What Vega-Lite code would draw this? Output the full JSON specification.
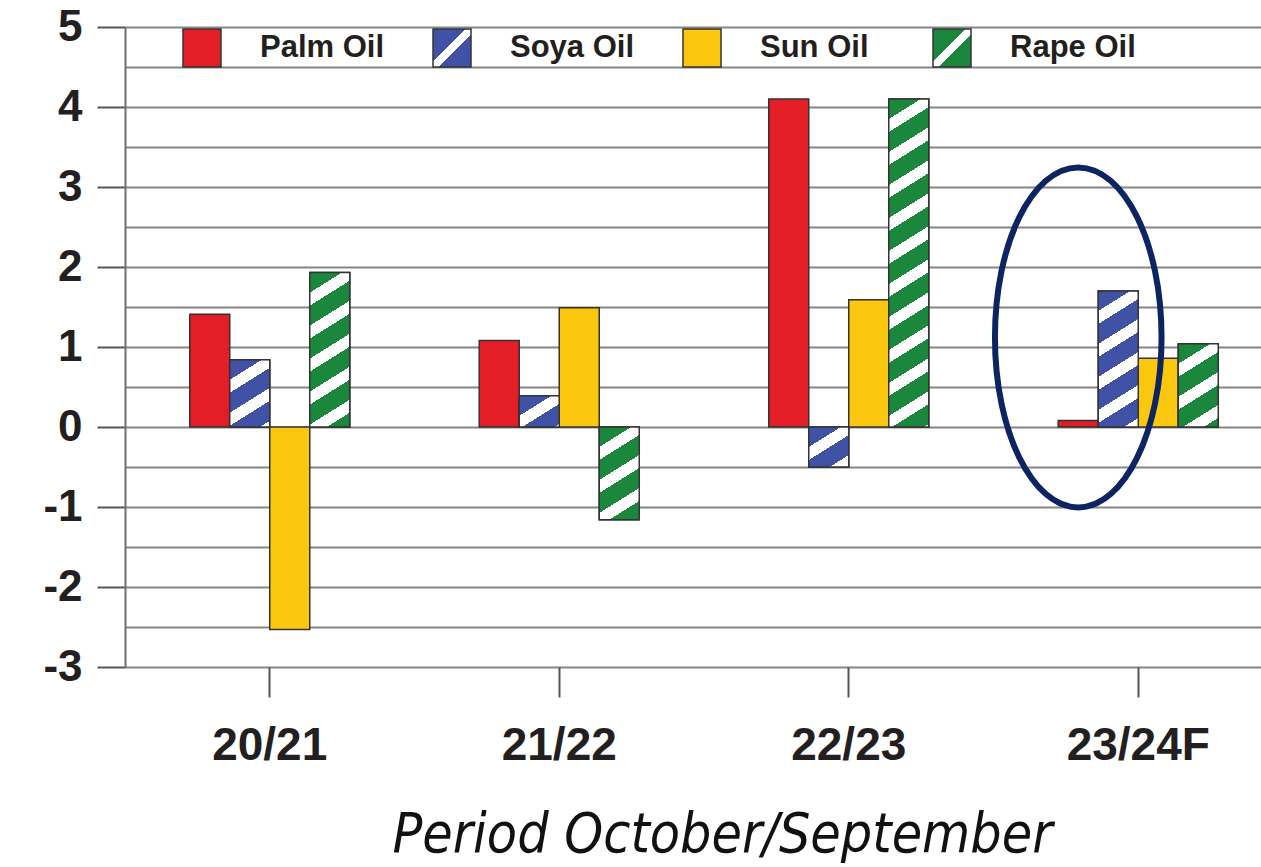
{
  "$schema": "https://vega.github.io/schema/vega-lite/v6.json",
  "width": 1123,
  "height": 640,
  "autosize": {"type": "none"},
  "padding": {"left": 125, "top": 27, "right": 13, "bottom": 200},
  "background": "white",
  "config": {"view": {"stroke": null}},
  "params": [
    {"name": "soyaStops", "value": [{"offset":0,"color":"#3f52a6"},{"offset":0.05,"color":"#3f52a6"},{"offset":0.05,"color":"#ffffff"},{"offset":0.0825,"color":"#ffffff"},{"offset":0.0825,"color":"#3f52a6"},{"offset":0.1325,"color":"#3f52a6"},{"offset":0.1325,"color":"#ffffff"},{"offset":0.165,"color":"#ffffff"},{"offset":0.165,"color":"#3f52a6"},{"offset":0.215,"color":"#3f52a6"},{"offset":0.215,"color":"#ffffff"},{"offset":0.2475,"color":"#ffffff"},{"offset":0.2475,"color":"#3f52a6"},{"offset":0.2975,"color":"#3f52a6"},{"offset":0.2975,"color":"#ffffff"},{"offset":0.33,"color":"#ffffff"},{"offset":0.33,"color":"#3f52a6"},{"offset":0.38,"color":"#3f52a6"},{"offset":0.38,"color":"#ffffff"},{"offset":0.4125,"color":"#ffffff"},{"offset":0.4125,"color":"#3f52a6"},{"offset":0.4625,"color":"#3f52a6"},{"offset":0.4625,"color":"#ffffff"},{"offset":0.495,"color":"#ffffff"},{"offset":0.495,"color":"#3f52a6"},{"offset":0.545,"color":"#3f52a6"},{"offset":0.545,"color":"#ffffff"},{"offset":0.5775,"color":"#ffffff"},{"offset":0.5775,"color":"#3f52a6"},{"offset":0.6275,"color":"#3f52a6"},{"offset":0.6275,"color":"#ffffff"},{"offset":0.66,"color":"#ffffff"},{"offset":0.66,"color":"#3f52a6"},{"offset":0.71,"color":"#3f52a6"},{"offset":0.71,"color":"#ffffff"},{"offset":0.7425,"color":"#ffffff"},{"offset":0.7425,"color":"#3f52a6"},{"offset":0.7925,"color":"#3f52a6"},{"offset":0.7925,"color":"#ffffff"},{"offset":0.825,"color":"#ffffff"},{"offset":0.825,"color":"#3f52a6"},{"offset":0.875,"color":"#3f52a6"},{"offset":0.875,"color":"#ffffff"},{"offset":0.9075,"color":"#ffffff"},{"offset":0.9075,"color":"#3f52a6"},{"offset":0.9575,"color":"#3f52a6"},{"offset":0.9575,"color":"#ffffff"},{"offset":0.99,"color":"#ffffff"},{"offset":0.99,"color":"#3f52a6"},{"offset":1,"color":"#3f52a6"}]},
    {"name": "rapeStops", "value": [{"offset":0,"color":"#1a873c"},{"offset":0.05,"color":"#1a873c"},{"offset":0.05,"color":"#ffffff"},{"offset":0.0825,"color":"#ffffff"},{"offset":0.0825,"color":"#1a873c"},{"offset":0.1325,"color":"#1a873c"},{"offset":0.1325,"color":"#ffffff"},{"offset":0.165,"color":"#ffffff"},{"offset":0.165,"color":"#1a873c"},{"offset":0.215,"color":"#1a873c"},{"offset":0.215,"color":"#ffffff"},{"offset":0.2475,"color":"#ffffff"},{"offset":0.2475,"color":"#1a873c"},{"offset":0.2975,"color":"#1a873c"},{"offset":0.2975,"color":"#ffffff"},{"offset":0.33,"color":"#ffffff"},{"offset":0.33,"color":"#1a873c"},{"offset":0.38,"color":"#1a873c"},{"offset":0.38,"color":"#ffffff"},{"offset":0.4125,"color":"#ffffff"},{"offset":0.4125,"color":"#1a873c"},{"offset":0.4625,"color":"#1a873c"},{"offset":0.4625,"color":"#ffffff"},{"offset":0.495,"color":"#ffffff"},{"offset":0.495,"color":"#1a873c"},{"offset":0.545,"color":"#1a873c"},{"offset":0.545,"color":"#ffffff"},{"offset":0.5775,"color":"#ffffff"},{"offset":0.5775,"color":"#1a873c"},{"offset":0.6275,"color":"#1a873c"},{"offset":0.6275,"color":"#ffffff"},{"offset":0.66,"color":"#ffffff"},{"offset":0.66,"color":"#1a873c"},{"offset":0.71,"color":"#1a873c"},{"offset":0.71,"color":"#ffffff"},{"offset":0.7425,"color":"#ffffff"},{"offset":0.7425,"color":"#1a873c"},{"offset":0.7925,"color":"#1a873c"},{"offset":0.7925,"color":"#ffffff"},{"offset":0.825,"color":"#ffffff"},{"offset":0.825,"color":"#1a873c"},{"offset":0.875,"color":"#1a873c"},{"offset":0.875,"color":"#ffffff"},{"offset":0.9075,"color":"#ffffff"},{"offset":0.9075,"color":"#1a873c"},{"offset":0.9575,"color":"#1a873c"},{"offset":0.9575,"color":"#ffffff"},{"offset":0.99,"color":"#ffffff"},{"offset":0.99,"color":"#1a873c"},{"offset":1,"color":"#1a873c"}]}
  ],
  "data": {"values": [
    {"period": "20/21", "oil": "Palm Oil", "value": 1.41},
    {"period": "20/21", "oil": "Soya Oil", "value": 0.84},
    {"period": "20/21", "oil": "Sun Oil", "value": -2.53},
    {"period": "20/21", "oil": "Rape Oil", "value": 1.93},
    {"period": "21/22", "oil": "Palm Oil", "value": 1.08},
    {"period": "21/22", "oil": "Soya Oil", "value": 0.39},
    {"period": "21/22", "oil": "Sun Oil", "value": 1.49},
    {"period": "21/22", "oil": "Rape Oil", "value": -1.16},
    {"period": "22/23", "oil": "Palm Oil", "value": 4.1},
    {"period": "22/23", "oil": "Soya Oil", "value": -0.5},
    {"period": "22/23", "oil": "Sun Oil", "value": 1.59},
    {"period": "22/23", "oil": "Rape Oil", "value": 4.1},
    {"period": "23/24F", "oil": "Palm Oil", "value": 0.08},
    {"period": "23/24F", "oil": "Soya Oil", "value": 1.7},
    {"period": "23/24F", "oil": "Sun Oil", "value": 0.86},
    {"period": "23/24F", "oil": "Rape Oil", "value": 1.04}
  ]},
  "encoding": {
    "x": {
      "field": "period", "type": "nominal",
      "scale": {"domain": ["20/21", "21/22", "22/23", "23/24F"], "range": [0, 1158], "paddingInner": 0.4473, "paddingOuter": 0.2236},
      "axis": {
        "title": "Period October/September",
        "domain": false, "grid": false,
        "tickSize": 30, "tickColor": "#555555", "tickWidth": 2,
        "labelFont": "Liberation Sans", "labelFontWeight": "bold", "labelFontSize": 46, "labelColor": "#231f20",
        "labelPadding": 26, "labelAngle": 0,
        "titleFont": "Liberation Sans Narrow, DejaVu Sans Condensed, sans-serif", "titleFontSize": 55, "titleFontStyle": "italic", "titleFontWeight": "normal", "titleColor": "#111111",
        "titleX": 597, "titleY": 184, "titleAlign": "center", "titleBaseline": "alphabetic"
      }
    },
    "xOffset": {"field": "oil", "type": "nominal", "scale": {"domain": ["Palm Oil", "Soya Oil", "Sun Oil", "Rape Oil"], "paddingInner": 0, "paddingOuter": 0}},
    "y": {
      "field": "value", "type": "quantitative",
      "scale": {"domain": [-3, 5], "nice": false, "zero": false},
      "axis": {
        "title": null,
        "values": [-3, -2.5, -2, -1.5, -1, -0.5, 0, 0.5, 1, 1.5, 2, 2.5, 3, 3.5, 4, 4.5, 5],
        "labelExpr": "datum.value % 1 === 0 ? toString(datum.value) : ''",
        "grid": true, "gridColor": "#858585", "gridWidth": 2,
        "domainColor": "#6e6e6e", "domainWidth": 2,
        "tickSize": 28, "tickColor": "#555555", "tickWidth": 2,
        "tickOpacity": {"condition": {"test": "datum.value % 1 !== 0", "value": 0}, "value": 1},
        "labelFont": "Liberation Sans", "labelFontWeight": "bold", "labelFontSize": 44, "labelColor": "#231f20",
        "labelPadding": 15, "labelOverlap": false, "labelFlush": false
      }
    }
  },
  "layer": [
    {
      "mark": {"type": "bar", "stroke": "#333333", "strokeWidth": 1.5},
      "encoding": {
        "color": {
          "field": "oil", "type": "nominal",
          "scale": {
            "domain": ["Palm Oil", "Soya Oil", "Sun Oil", "Rape Oil"],
            "range": [
              "#e41e26",
              {"expr": "{gradient: 'linear', x1: 0, y1: 0, x2: 1, y2: 1, stops: [{offset: 0, color: '#3f52a6'}, {offset: 0.43, color: '#3f52a6'}, {offset: 0.43, color: '#ffffff'}, {offset: 0.57, color: '#ffffff'}, {offset: 0.57, color: '#3f52a6'}, {offset: 1, color: '#3f52a6'}]}"},
              "#fcc80f",
              {"expr": "{gradient: 'linear', x1: 0, y1: 0, x2: 1, y2: 1, stops: [{offset: 0, color: '#1a873c'}, {offset: 0.43, color: '#1a873c'}, {offset: 0.43, color: '#ffffff'}, {offset: 0.57, color: '#ffffff'}, {offset: 0.57, color: '#1a873c'}, {offset: 1, color: '#1a873c'}]}"}
            ]
          },
          "legend": {
            "title": null, "orient": "none", "legendX": 57, "legendY": 1,
            "direction": "horizontal", "columns": 4, "gridAlign": "all",
            "symbolType": "square", "symbolSize": 1444, "symbolStrokeColor": "#333333", "symbolStrokeWidth": 1.5, "symbolOpacity": 1,
            "labelFont": "Liberation Sans", "labelFontSize": 31, "labelFontWeight": "bold", "labelColor": "#231f20",
            "labelOffset": 38, "columnPadding": 44, "padding": 0
          }
        }
      }
    },
    {
      "transform": [{"filter": "datum.oil === 'Soya Oil' || datum.oil === 'Rape Oil'"}],
      "mark": {
        "type": "bar", "stroke": "#333333", "strokeWidth": 1.5,
        "fill": {"expr": "{gradient: 'linear', x1: 0, y1: 0, x2: 250 * bandwidth('xOffset') / (pow(0.625 * bandwidth('xOffset'), 2) + pow(scale('y', datum.value) - scale('y', 0), 2)), y2: 400 * abs(scale('y', datum.value) - scale('y', 0)) / (pow(0.625 * bandwidth('xOffset'), 2) + pow(scale('y', datum.value) - scale('y', 0), 2)), stops: datum.oil === 'Soya Oil' ? soyaStops : rapeStops}"}
      }
    },
    {
      "data": {"values": [{"period": "23/24F", "oil": "Palm Oil", "value": 1.12}]},
      "mark": {
        "type": "point", "filled": false, "opacity": 1,
        "shape": "M0,-1C0.2706,-1 0.49,-0.5523 0.49,0C0.49,0.5523 0.2706,1 0,1C-0.2706,1 -0.49,0.5523 -0.49,0C-0.49,-0.5523 -0.2706,-1 0,-1Z",
        "size": 115600, "stroke": "#0c2461", "strokeWidth": 6, "xOffset": -4
      }
    }
  ]
}
